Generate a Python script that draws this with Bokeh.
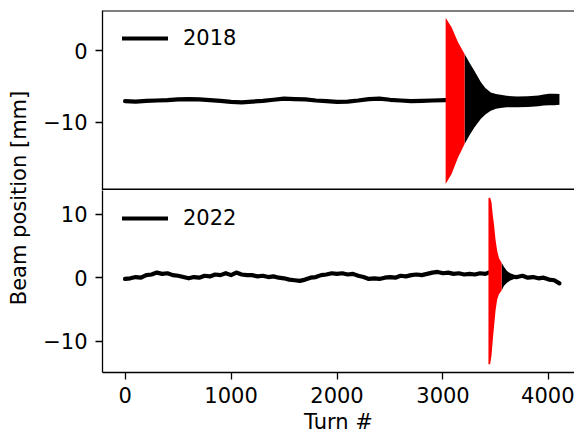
import math
from bokeh.plotting import figure
from bokeh.models import Range1d, FixedTicker, Span, Label, Legend, LegendItem
from bokeh.layouts import row, column
from bokeh.embed import file_html
from bokeh.resources import INLINE

FONT = "DejaVu Sans"
FS = "21px"

# ---------------- data ----------------
# 2018: slow orbit before the kick (turn, position mm)
turn_2018 = [0, 100, 200, 300, 400, 500, 600, 700, 800, 900, 1000, 1100, 1200, 1300,
             1400, 1500, 1600, 1700, 1800, 1900, 2000, 2100, 2200, 2300, 2400, 2500,
             2600, 2700, 2800, 2900, 3025]
pos_2018 = [-7.05, -7.1, -7.0, -6.95, -6.9, -6.8, -6.75, -6.8, -6.9, -7.0, -7.15, -7.2,
            -7.1, -7.0, -6.85, -6.7, -6.75, -6.8, -6.95, -7.05, -7.15, -7.1, -6.95,
            -6.75, -6.7, -6.85, -6.95, -7.05, -7.0, -6.95, -6.9]
# 2018: oscillation envelope, highlighted (red) part
kick_turn_2018 = [3025, 3081, 3142, 3204]
kick_hi_2018 = [4.6, 3.25, 1.16, -0.46]
kick_lo_2018 = [-18.6, -17.2, -14.9, -13.0]
# 2018: oscillation envelope, decaying (black) part
decay_turn_2018 = [3204, 3250, 3296, 3358, 3400, 3451, 3500, 3543, 3600, 3700, 3800,
                   3900, 3950, 4000, 4050, 4099]
decay_hi_2018 = [-0.46, -1.7, -2.79, -4.42, -5.2, -5.82, -6.05, -6.14, -6.3, -6.4,
                 -6.35, -6.25, -6.1, -6.0, -6.0, -6.05]
decay_lo_2018 = [-13.0, -11.8, -10.7, -9.5, -8.9, -8.37, -8.1, -8.0, -7.9, -7.9,
                 -7.85, -7.75, -7.65, -7.6, -7.6, -7.55]

# 2022: orbit before the kick
turn_2022 = [0, 50, 100, 150, 200, 250, 300, 350, 400, 450, 500, 550, 600, 650, 700,
             750, 800, 850, 900, 950, 1000, 1050, 1100, 1150, 1200, 1250, 1300, 1350,
             1400, 1450, 1500, 1550, 1600, 1650, 1700, 1750, 1800, 1850, 1900, 1950,
             2000, 2050, 2100, 2150, 2200, 2250, 2300, 2350, 2400, 2450, 2500, 2550,
             2600, 2650, 2700, 2750, 2800, 2850, 2900, 2950, 3000, 3050, 3100, 3150,
             3200, 3250, 3300, 3350, 3400, 3429]
pos_2022 = [-0.2, -0.1, 0.1, 0.0, 0.4, 0.5, 0.8, 0.6, 0.7, 0.4, 0.3, 0.1, -0.1, 0.1,
            0.0, 0.3, 0.2, 0.5, 0.4, 0.7, 0.4, 0.8, 0.5, 0.4, 0.4, 0.2, 0.3, 0.1, 0.2,
            0.0, -0.1, -0.3, -0.4, -0.5, -0.3, 0.0, 0.1, 0.4, 0.5, 0.7, 0.6, 0.7, 0.5,
            0.6, 0.3, 0.1, -0.2, -0.1, -0.2, 0.0, 0.1, 0.0, 0.3, 0.2, 0.4, 0.5, 0.4,
            0.6, 0.8, 0.9, 0.7, 0.8, 0.6, 0.7, 0.5, 0.6, 0.5, 0.7, 0.6, 0.8]
# 2022: oscillation envelope, highlighted (red) part
kick_turn_2022 = [3429, 3445, 3458, 3470, 3481, 3497, 3512, 3528, 3553]
kick_hi_2022 = [12.5, 12.6, 11.8, 9.8, 8.4, 5.8, 4.2, 3.1, 2.35]
kick_lo_2022 = [-13.6, -13.6, -12.2, -9.8, -7.8, -5.0, -3.4, -2.6, -2.0]
# 2022: decaying (black) part
decay_turn_2022 = [3553, 3575, 3604, 3635, 3667]
decay_hi_2022 = [2.35, 1.7, 1.05, 0.7, 0.5]
decay_lo_2022 = [-2.0, -1.3, -0.78, -0.45, -0.26]
# 2022: orbit after the kick
after_turn_2022 = [3667, 3700, 3750, 3800, 3850, 3900, 3950, 4000, 4050, 4099]
after_pos_2022 = [0.12, 0.1, 0.3, 0.0, 0.1, -0.1, 0.0, -0.3, -0.4, -0.9]

x_ticks = [0, 1000, 2000, 3000, 4000]
y_ticks_2018 = [-10, 0]
y_ticks_2022 = [-10, 0, 10]
labels = ["2018", "2022"]

# ---------------- layout constants ----------------
X_RANGE = (-213, 4241)
Y_RANGE_2018 = (-19.5, 5.6)
Y_RANGE_2022 = (-14.9, 13.7)
LEFT = 53
W = 534
TOP_FRAME_H = 180
BOT_FRAME_H = 182
TOP_PAD = 10
AXIS_H = 64


def style_axis(ax):
    ax.axis_line_color = "black"
    ax.axis_line_width = 1.3
    ax.major_tick_line_color = "black"
    ax.major_tick_line_width = 1.3
    ax.major_tick_out = 7
    ax.major_tick_in = 0
    ax.minor_tick_out = 0
    ax.minor_tick_in = 0
    ax.major_label_text_font = FONT
    ax.major_label_text_font_size = FS
    ax.major_label_text_color = "black"
    ax.major_label_standoff = 8


xr = Range1d(*X_RANGE)


def make_panel(height, yrange, yticks, bottom_axis, top_border):
    p = figure(width=W, height=height, x_range=xr, y_range=Range1d(*yrange),
               output_backend="svg", toolbar_location=None, title=None,
               x_axis_location="below" if bottom_axis else None,
               min_border_left=LEFT, min_border_right=0, min_border_top=top_border,
               min_border_bottom=0)
    p.outline_line_color = None
    p.background_fill_color = "white"
    p.border_fill_color = "white"
    p.xgrid.visible = False
    p.ygrid.visible = False
    ya = p.yaxis[0]
    style_axis(ya)
    ya.ticker = FixedTicker(ticks=yticks)
    ya.major_label_overrides = {t: (("\u2212" + str(abs(t))) if t < 0 else str(t)) for t in yticks}
    if bottom_axis:
        xa = p.xaxis[0]
        style_axis(xa)
        xa.ticker = FixedTicker(ticks=x_ticks)
        xa.major_label_standoff = 7
        xa.axis_label = "Turn #"
        xa.axis_label_text_font = FONT
        xa.axis_label_text_font_size = FS
        xa.axis_label_text_font_style = "normal"
        xa.axis_label_text_color = "black"
        xa.axis_label_standoff = 4
    return p


top = make_panel(TOP_PAD + TOP_FRAME_H, Y_RANGE_2018, y_ticks_2018, False, TOP_PAD)
bot = make_panel(BOT_FRAME_H + AXIS_H, Y_RANGE_2022, y_ticks_2022, True, 0)

# frame edges
top.add_layout(Span(location=Y_RANGE_2018[1], dimension="width", line_color="black", line_width=2))
top.add_layout(Span(location=Y_RANGE_2018[0], dimension="width", line_color="black", line_width=4))

# 2018 traces
r18 = top.line(turn_2018, pos_2018, line_color="black", line_width=4.2,
               line_join="round", line_cap="round")
top.varea(x=decay_turn_2018, y1=decay_lo_2018, y2=decay_hi_2018, fill_color="black")
top.varea(x=kick_turn_2018, y1=kick_lo_2018, y2=kick_hi_2018, fill_color="red")

# 2022 traces
r22 = bot.line(turn_2022, pos_2022, line_color="black", line_width=4.2,
               line_join="round", line_cap="round")
bot.line(after_turn_2022, after_pos_2022, line_color="black", line_width=4.2,
         line_join="round", line_cap="round")
bot.varea(x=decay_turn_2022, y1=decay_lo_2022, y2=decay_hi_2022, fill_color="black")
bot.varea(x=kick_turn_2022, y1=kick_lo_2022, y2=kick_hi_2022, fill_color="red")


def add_legend(p, r, text, frame_h):
    lg = Legend(items=[LegendItem(label=text, renderers=[r])],
                location=(20, frame_h - 40), orientation="vertical")
    lg.border_line_color = None
    lg.background_fill_alpha = 0
    lg.padding = 0
    lg.margin = 0
    lg.spacing = 0
    lg.glyph_width = 46
    lg.glyph_height = 22
    lg.label_height = 22
    lg.label_standoff = 15
    lg.label_text_font = FONT
    lg.label_text_font_size = FS
    lg.label_text_color = "black"
    p.add_layout(lg)


add_legend(top, r18, labels[0], TOP_FRAME_H)
add_legend(bot, r22, labels[1], BOT_FRAME_H)

# shared y label
LAB_H = TOP_PAD + TOP_FRAME_H + BOT_FRAME_H + AXIS_H
lab = figure(width=40, height=LAB_H, x_range=Range1d(0, 1), y_range=Range1d(0, 1),
             output_backend="svg", toolbar_location=None, title=None,
             x_axis_location=None, y_axis_location=None, min_border=0)
lab.outline_line_color = None
lab.xgrid.visible = False
lab.ygrid.visible = False
lab.add_layout(Label(x=0.45, y=1 - 197.5 / LAB_H, text="Beam position [mm]",
                     angle=math.pi / 2, text_align="center", text_baseline="middle",
                     text_font=FONT, text_font_size=FS, text_color="black"))

layout = row(lab, column(top, bot))
open("out.html", "w").write(file_html(layout, INLINE))
